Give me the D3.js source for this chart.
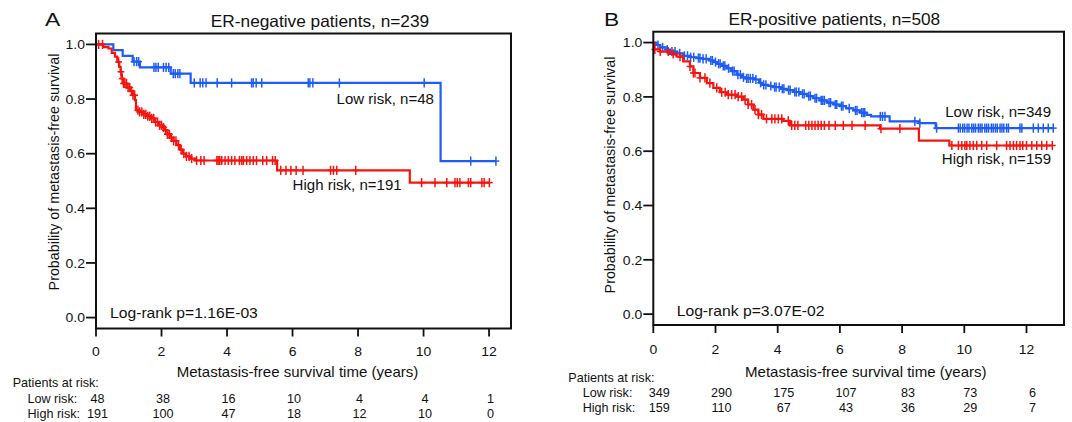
<!DOCTYPE html>
<html><head><meta charset="utf-8">
<script src="https://cdn.jsdelivr.net/npm/d3@7"></script>
<style>
html,body{margin:0;padding:0;background:#fff;}
svg{display:block;font-family:"Liberation Sans",Arial,sans-serif;}
</style></head>
<body><svg id="c" width="1072" height="422"></svg>
<script>
// ---------- DATA ----------
const timeTicks = [0, 2, 4, 6, 8, 10, 12];
const yTicks = [0, 0.2, 0.4, 0.6, 0.8, 1.0];

// Panel A: ER-negative
const aTitle = "ER-negative patients, n=239";
const aLowLabel = "Low risk, n=48";
const aHighLabel = "High risk, n=191";
const aPval = "Log-rank p=1.16E-03";
const aLowSteps = [[0,1],[0.53,0.979],[0.815,0.958],[1.12,0.937],[1.34,0.916],[2.28,0.893],[2.89,0.859],[10.52,0.573]];
const aLowEnd = 12.21;
const aLowCensor = [1.16,1.24,1.30,1.77,1.83,1.90,2.06,2.14,2.22,2.36,2.42,2.50,2.56,3.0,3.18,3.26,3.36,3.70,4.14,4.75,4.80,4.89,5.06,6.48,6.53,6.62,7.43,10.02,11.44,12.21];
const aHighSteps = [[0,1],[0.22,0.99],[0.38,0.985],[0.48,0.969],[0.58,0.955],[0.65,0.936],[0.71,0.918],[0.75,0.900],[0.78,0.875],[0.83,0.857],[0.94,0.842],[1.04,0.830],[1.12,0.814],[1.19,0.796],[1.22,0.759],[1.32,0.753],[1.45,0.744],[1.55,0.737],[1.67,0.729],[1.77,0.716],[1.90,0.704],[2.01,0.696],[2.11,0.686],[2.18,0.671],[2.26,0.659],[2.36,0.647],[2.46,0.631],[2.56,0.615],[2.65,0.600],[2.75,0.590],[2.87,0.582],[3.02,0.575],[5.53,0.539],[9.58,0.494]];
const aHighEnd = 12.01;
const aHighCensor = [0.08,0.20,0.69,0.76,0.80,0.84,0.88,0.93,0.98,1.03,1.08,1.13,1.18,1.28,1.33,1.40,1.46,1.52,1.58,1.64,1.70,1.76,1.82,1.88,1.94,2.00,2.06,2.12,2.18,2.24,2.30,2.37,2.44,2.52,2.60,2.68,2.76,2.84,2.92,
  3.07,3.20,3.30,3.69,3.73,3.78,3.84,3.94,4.04,4.14,4.24,4.38,4.45,4.50,4.60,4.70,4.80,4.90,5.09,5.21,5.39,5.47,
  5.64,5.80,5.95,6.11,6.32,7.16,7.25,7.35,7.93,
  9.94,10.35,10.71,10.96,11.03,11.11,11.37,11.44,11.78,11.85,12.01];
const aRiskLow = [48, 38, 16, 10, 4, 4, 1];
const aRiskHigh = [191, 100, 47, 18, 12, 10, 0];

// Panel B: ER-positive
const bTitle = "ER-positive patients, n=508";
const bLowLabel = "Low risk, n=349";
const bHighLabel = "High risk, n=159";
const bPval = "Log-rank p=3.07E-02";
const bLowSteps = [[0,1],[0.1,0.991],[0.22,0.982],[0.4,0.974],[0.54,0.967],[0.75,0.96],[0.96,0.951],[1.2,0.946],[1.39,0.943],[1.6,0.94],[1.8,0.934],[1.95,0.928],[2.04,0.922],[2.2,0.914],[2.36,0.905],[2.5,0.895],[2.68,0.882],[2.85,0.872],[2.95,0.868],[3.27,0.864],[3.4,0.852],[3.49,0.844],[3.7,0.84],[3.86,0.836],[4.1,0.83],[4.29,0.825],[4.5,0.818],[4.72,0.811],[4.95,0.803],[5.14,0.795],[5.35,0.787],[5.58,0.779],[5.8,0.772],[6.0,0.766],[6.2,0.758],[6.43,0.75],[6.65,0.742],[6.86,0.734],[7.0,0.728],[7.6,0.71],[8.55,0.703],[9.08,0.685]];
const bLowEnd = 12.86;
const bLowCensor = [0.15,0.3,0.45,0.6,0.7,0.85,1.0,1.1,1.2,1.3,1.45,1.5,1.6,1.7,1.85,1.9,2.0,2.1,2.15,2.25,2.3,2.42,2.55,2.6,2.72,2.8,2.9,3.0,3.05,3.12,3.2,3.3,3.45,3.55,3.62,3.78,3.9,3.95,4.05,4.15,4.2,4.35,4.4,4.55,4.6,4.68,4.8,4.85,5.0,5.05,5.2,5.25,5.4,5.45,5.5,5.65,5.7,5.85,5.9,6.05,6.1,6.3,6.5,6.55,6.7,6.75,6.8,7.3,7.37,7.45,8.41,8.57,9.11,
  9.81,9.87,9.95,10.01,10.09,10.15,10.24,10.30,10.36,10.45,10.51,10.57,10.66,10.72,10.78,10.87,10.93,11.0,11.06,11.15,11.21,11.27,11.36,11.42,11.79,11.85,12.22,12.38,12.54,12.70,12.86];
const bHighSteps = [[0,1],[0.03,0.975],[0.22,0.967],[0.54,0.958],[0.75,0.948],[0.96,0.931],[1.18,0.912],[1.29,0.888],[1.5,0.87],[1.72,0.851],[1.93,0.833],[2.14,0.817],[2.36,0.808],[2.68,0.801],[2.89,0.79],[3.05,0.772],[3.22,0.753],[3.38,0.735],[3.54,0.719],[4.18,0.712],[4.4,0.695],[7.29,0.683],[8.54,0.639],[9.52,0.621]];
const bHighEnd = 12.83;
const bHighCensor = [0.05,0.22,0.48,0.64,0.86,1.18,1.29,1.34,1.50,1.66,1.82,2.04,2.20,2.31,2.41,2.52,2.63,2.73,2.84,2.95,3.05,3.16,3.27,3.38,3.48,3.64,3.81,3.91,4.02,4.13,4.34,
  4.45,4.55,4.65,4.9,5.0,5.1,5.2,5.3,5.4,5.5,5.65,5.85,6.11,6.39,6.81,7.32,7.93,
  9.60,9.81,9.92,10.02,10.08,10.18,10.29,10.40,10.56,10.72,11.04,11.36,11.47,11.58,11.68,11.79,11.88,12.0,12.17,12.33,12.49,12.65,12.83];
const bRiskLow = [349, 290, 175, 107, 83, 73, 6];
const bRiskHigh = [159, 110, 67, 43, 36, 29, 7];

const xTitle = "Metastasis-free survival time (years)";
const yTitle = "Probability of metastasis-free survival";

// ---------- DRAW ----------
const BLUE = "#1d5cf7", RED = "#f5140f", INK = "#111";
const SX = 1.06;
const svg = d3.select("#c");

function txt(g, x, y, s, size, anchor = "start", sx = SX) {
  return g.append("text")
    .attr("transform", `translate(${x},${y}) scale(${sx},1)`)
    .attr("text-anchor", anchor).attr("font-size", size).attr("fill", INK).text(s);
}

function survAt(steps, t) {
  let s = steps[0][1];
  for (const d of steps) { if (d[0] <= t) s = d[1]; else break; }
  return s;
}

function panel(cfg) {
  const g = svg.append("g");
  const x = d3.scaleLinear().domain([0, cfg.xMax]).range([cfg.left, cfg.right]);
  const y = d3.scaleLinear().domain([-0.04, 1.04]).range([cfg.bottom, cfg.top]);

  // curves
  const line = d3.line().x(d => x(d[0])).y(d => y(d[1])).curve(d3.curveStepAfter);
  cfg.series.forEach(sr => {
    const pts = sr.steps.concat([[sr.end, sr.steps[sr.steps.length - 1][1]]]);
    g.append("path").attr("d", line(pts)).attr("fill", "none")
      .attr("stroke", sr.color).attr("stroke-width", 2.2);
    const cg = g.append("g").attr("stroke", sr.color).attr("stroke-width", 1.5);
    sr.censor.forEach(t => {
      const cx = x(t), cy = y(survAt(sr.steps, t));
      cg.append("line").attr("x1", cx).attr("x2", cx).attr("y1", cy - 4.6).attr("y2", cy + 4.6);
      cg.append("line").attr("x1", cx - 3.4).attr("x2", cx + 3.4).attr("y1", cy).attr("y2", cy);
    });
  });

  // frame
  g.append("rect").attr("x", cfg.left).attr("y", cfg.top)
    .attr("width", cfg.right - cfg.left).attr("height", cfg.bottom - cfg.top)
    .attr("fill", "none").attr("stroke", INK).attr("stroke-width", 2);

  // y ticks
  yTicks.forEach(v => {
    g.append("line").attr("x1", cfg.left - 10).attr("x2", cfg.left).attr("y1", y(v)).attr("y2", y(v))
      .attr("stroke", INK).attr("stroke-width", 1.8);
    txt(g, cfg.left - 11, y(v) + 4.8, d3.format(".1f")(v), 13.2, "end");
  });
  // x ticks
  timeTicks.forEach(v => {
    g.append("line").attr("x1", x(v)).attr("x2", x(v)).attr("y1", cfg.bottom).attr("y2", cfg.bottom + 8)
      .attr("stroke", INK).attr("stroke-width", 1.8);
    txt(g, x(v), cfg.tickBase, String(v), 13.2, "middle");
  });

  // titles
  txt(g, cfg.titleX, cfg.titleBase, cfg.title, 16.3, "middle");
  txt(g, cfg.letterX, 25.5, cfg.letter, 19, "start", 1.2);
  txt(g, cfg.xTitleX, 376.5, xTitle, 14.2, "middle");
  g.append("text").attr("transform", `translate(${cfg.yTitleX},${cfg.yTitleY}) rotate(-90)`)
    .attr("text-anchor", "middle").attr("font-size", 14.3).attr("fill", INK).text(yTitle);

  // legends
  txt(g, cfg.lowLab[0], cfg.lowLab[1], cfg.lowLabel, 14.2, "end");
  txt(g, cfg.highLab[0], cfg.highLab[1], cfg.highLabel, 14.2, "end");
  txt(g, cfg.pX, cfg.pBase, cfg.pval, 14.8, "start");

  // risk table
  txt(g, cfg.riskX0, cfg.riskBase[0], "Patients at risk:", 11.9, "start");
  txt(g, cfg.riskX1, cfg.riskBase[1], "Low risk:", 11.9, "start");
  txt(g, cfg.riskX1, cfg.riskBase[2], "High risk:", 11.9, "start");
  timeTicks.forEach((t, i) => {
    txt(g, x(t) + cfg.riskShift, cfg.riskBase[1], String(cfg.riskLow[i]), 11.9, "middle");
    txt(g, x(t) + cfg.riskShift, cfg.riskBase[2], String(cfg.riskHigh[i]), 11.9, "middle");
  });
}

panel({
  letter: "A", letterX: 45,
  left: 96, right: 511, top: 33.5, bottom: 328.5, xMax: 12.67,
  tickBase: 355.5, titleX: 320, titleBase: 26.5, title: aTitle,
  xTitleX: 297.5, yTitleX: 59, yTitleY: 172,
  lowLabel: aLowLabel, highLabel: aHighLabel, lowLab: [434, 104.3], highLab: [401.7, 190],
  pval: aPval, pX: 110, pBase: 317.5,
  riskX0: 12.7, riskX1: 27.5, riskBase: [386.5, 402.5, 417.5], riskShift: 1.5,
  riskLow: aRiskLow, riskHigh: aRiskHigh,
  series: [
    {steps: aLowSteps, end: aLowEnd, censor: aLowCensor, color: BLUE},
    {steps: aHighSteps, end: aHighEnd, censor: aHighCensor, color: RED}
  ]
});

panel({
  letter: "B", letterX: 604,
  left: 653.3, right: 1064, top: 31.7, bottom: 325, xMax: 13.206,
  tickBase: 353.5, titleX: 834.4, titleBase: 24.5, title: bTitle,
  xTitleX: 865.8, yTitleX: 615, yTitleY: 175,
  lowLabel: bLowLabel, highLabel: bHighLabel, lowLab: [1051, 116.7], highLab: [1051, 164],
  pval: bPval, pX: 676.7, pBase: 316.3,
  riskX0: 568.3, riskX1: 582.7, riskBase: [381.5, 397, 411.5], riskShift: 6,
  riskLow: bRiskLow, riskHigh: bRiskHigh,
  series: [
    {steps: bLowSteps, end: bLowEnd, censor: bLowCensor, color: BLUE},
    {steps: bHighSteps, end: bHighEnd, censor: bHighCensor, color: RED}
  ]
});
</script></body></html>
